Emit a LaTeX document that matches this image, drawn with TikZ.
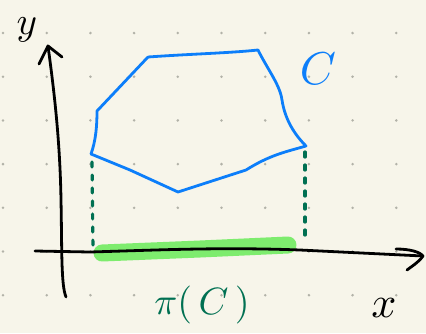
\documentclass[tikz,border=0pt]{standalone}
\definecolor{paper}{RGB}{247,245,234}
\definecolor{cdot}{RGB}{178,178,168}
\definecolor{cblue}{RGB}{12,126,250}
\definecolor{chigh}{RGB}{126,236,110}
\definecolor{cdark}{RGB}{0,112,82}
\newcommand{\handlbl}[2]{\scalebox{#1}{#2}}
\tikzset{sketch/.style={x=1pt,y=-1pt,line cap=round,line join=round},
  pen/.style={line width=2.8},
  bigtext/.style={inner sep=0}}
\begin{document}
\begin{tikzpicture}[sketch]
    \fill[paper] (0,0) rectangle (426,333);
    \useasboundingbox (0,0) rectangle (426,333);
    \foreach \i in {0,...,9} \foreach \j in {0,...,6}
      \fill[cdot] ({3+43.7*\i},{33+43.7*\j}) circle (1.4);
    % projection of C onto the x axis
    \draw[chigh,line width=17] (102,253) -- (200,249) -- (288,245);
    \coordinate (l0) at (92,162); \coordinate (l1) at (93,250);
    \coordinate (r0) at (305,152); \coordinate (r1) at (305,240);
    \draw[cdark,line width=3.2,dash pattern=on 5 off 8] (l0) -- (l1);
    \draw[cdark,line width=3.2,dash pattern=on 5 off 8] (r0) -- (r1);
    % axes
    \coordinate (ytip) at (48,46); \coordinate (xtip) at (423,256);
    \draw[black,pen] (66,297) .. controls (61,285) and (62,250) .. (61,200)
      .. controls (60,140) and (54,90) .. (ytip);
    \draw[black,pen] (39,64) -- (ytip) -- (62,57);
    \draw[black,pen] (35,251) -- (90,252) .. controls (160,250) and (220,247) .. (300,250)
      -- (xtip);
    \draw[black,pen] (396,249) .. controls (410,249) and (420,252) .. (xtip)
      .. controls (418,263) and (412,266) .. (407,270);
    % the set C
    \coordinate (c1) at (148,57);  \coordinate (c2) at (258,50);
    \coordinate (c3) at (306,146); \coordinate (c4) at (178,192);
    \coordinate (c5) at (91,154);  \coordinate (c6) at (97,111);
    \draw[cblue,pen] (c1) .. controls (190,54) and (230,53) .. (c2)
      .. controls (268,70) and (280,85) .. (282,100)
      .. controls (285,120) and (295,135) .. (c3)
      .. controls (285,152) and (270,155) .. (246,170)
      -- (c4) -- (130,170) -- (c5)
      .. controls (96,140) and (97,125) .. (c6) -- (c1);
    % labels
    \node[cblue,bigtext] (lblC) at (318,69) {\handlbl{4.6}{$C$}};
    \node[bigtext] (lbly) at (27,30) {\handlbl{3.9}{$y$}};
    \node[bigtext] (lblx) at (384,308) {\handlbl{4.4}{$x$}};
    \node[cdark,bigtext] (lblpi) at (202,305) {\handlbl{3.8}{$\pi(\,C\,)$}};
  \end{tikzpicture}
\end{document}
